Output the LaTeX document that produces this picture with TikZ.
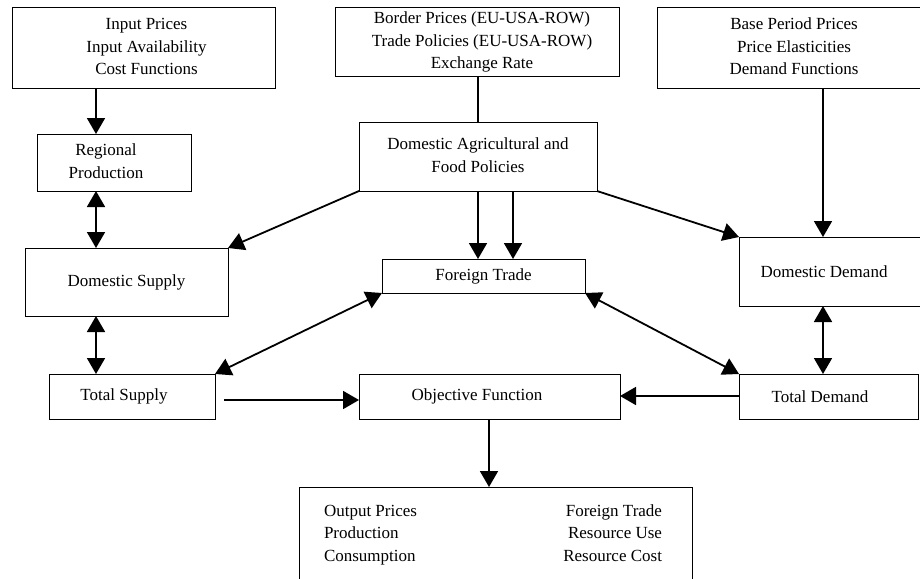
\documentclass[tikz,border=0pt]{standalone}
\usepackage{fontspec}
\setmainfont{Liberation Serif}
\usetikzlibrary{arrows.meta}
\begin{document}
\begin{tikzpicture}[x=1pt,y=-1pt,
  box/.style={draw=black,line width=1pt,inner sep=0pt,outer sep=0pt,
    font=\fontsize{17}{22.5}\selectfont,align=center},
  txt/.style={inner sep=0pt,outer sep=0pt,font=\fontsize{17}{22.5}\selectfont},
  arr/.style={line width=1.8pt,-{Triangle[length=16pt,width=18pt]}},
  darr/.style={line width=1.8pt,{Triangle[length=16pt,width=18pt]}-{Triangle[length=16pt,width=18pt]}},
  plain/.style={line width=1.8pt}]
\useasboundingbox (0,0) rectangle (920,578);
\fill[white] (0,0) rectangle (920,578);
\begin{scope}
\clip (0,0) rectangle (920,578);
\def\arraystretch{1}
% boxes
\node[box,minimum width=263pt,minimum height=80pt] (inp) at (143.5,48)
  {\hspace*{6pt}\begin{tabular}{@{}c@{}}Input Prices\\Input Availability\\Cost Functions\end{tabular}};
\node[box,minimum width=284pt,minimum height=68pt] (bord) at (477,42)
  {\hspace*{10pt}\begin{tabular}{@{}c@{}}Border Prices (EU-USA-ROW)\\Trade Policies (EU-USA-ROW)\\Exchange Rate\end{tabular}};
\node[box,minimum width=268pt,minimum height=80pt] (base) at (791,48)
  {\hspace*{6pt}\begin{tabular}{@{}c@{}}Base Period Prices\\Price Elasticities\\Demand Functions\end{tabular}};
\node[box,minimum width=154pt,minimum height=57pt] (reg) at (114,162.5)
  {\hspace*{-16pt}\begin{tabular}{@{}c@{}}Regional\\Production\end{tabular}};
\node[box,minimum width=238pt,minimum height=69pt] (dap) at (478,156.5)
  {\begin{tabular}{@{}c@{}}Domestic Agricultural and\\Food Policies\end{tabular}};
\node[box,minimum width=203pt,minimum height=68pt] (dsup) at (126.5,282) {Domestic Supply};
\node[box,minimum width=203pt,minimum height=34pt] (ft) at (483.5,276) {Foreign Trade};
\node[box,minimum width=186pt,minimum height=69pt] (ddem) at (832,271.5)
  {\hspace*{-16pt}Domestic Demand};
\node[box,minimum width=166pt,minimum height=45pt] (tsup) at (132,396.5)
  {\hspace*{-16pt}Total Supply};
\node[box,minimum width=261pt,minimum height=45pt] (obj) at (489.5,396.5)
  {\hspace*{-25pt}Objective Function};
\node[box,minimum width=179pt,minimum height=45pt] (tdem) at (828.5,396.5)
  {\hspace*{-17pt}Total Demand};
\node[box,minimum width=393pt,minimum height=113pt] (out) at (495.5,543.5) {};
\node[txt,anchor=north west] (outl) at (324,500.5)
  {\begin{tabular}{@{}l@{}}Output Prices\\Production\\Consumption\end{tabular}};
\node[txt,anchor=north east] (outr) at (662,500.5)
  {\begin{tabular}{@{}r@{}}Foreign Trade\\Resource Use\\Resource Cost\end{tabular}};
% guide coordinates
\coordinate (xL) at (96,0);
\coordinate (xM) at (478,0);
\coordinate (xN) at (513,0);
\coordinate (xR) at (823,0);
\coordinate (xO) at (489,0);
\coordinate (yS) at (0,400);
\coordinate (yT) at (0,396);
% connectors
\draw[arr] (inp.south -| xL) -- (reg.north -| xL);
\draw[darr] (reg.south -| xL) -- (dsup.north -| xL);
\draw[darr] (dsup.south -| xL) -- (tsup.north -| xL);
\draw[plain] (bord.south -| xM) -- (dap.north -| xM);
\draw[arr] (dap.south -| xM) -- (ft.north -| xM);
\draw[arr] (dap.south -| xN) -- (ft.north -| xN);
\draw[arr] (dap.south west) -- (dsup.north east);
\draw[arr] (dap.south east) -- (ddem.north west);
\draw[arr] (base.south -| xR) -- (ddem.north -| xR);
\draw[darr] (ddem.south -| xR) -- (tdem.north -| xR);
\draw[darr] (ft.south west) -- (tsup.north east);
\draw[darr] (ft.south east) -- (tdem.north west);
\draw[arr] ([xshift=9pt]tsup.east |- yS) -- (obj.west |- yS);
\draw[arr] (tdem.west |- yT) -- (obj.east |- yT);
\draw[arr] (obj.south -| xO) -- (out.north -| xO);
\end{scope}
\end{tikzpicture}
\end{document}
